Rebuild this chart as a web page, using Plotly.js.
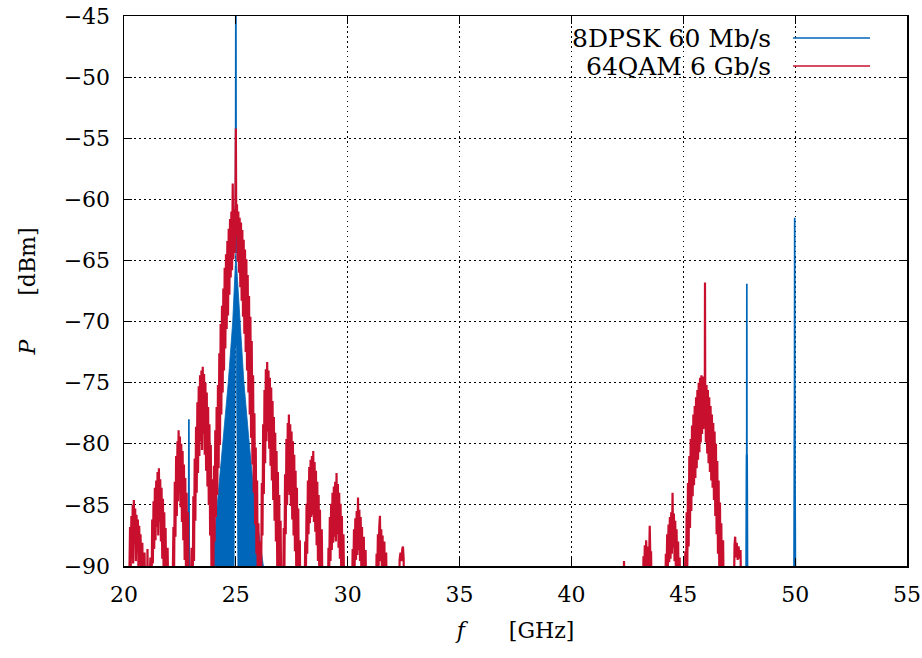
<!DOCTYPE html>
<html>
<head>
<meta charset="utf-8">
<script src="https://cdn.plot.ly/plotly-3.0.1.min.js"></script>
<style>html,body{margin:0;padding:0;background:#fff;}#chart{width:922px;height:658px;}</style>
</head>
<body>
<div id="chart"></div>
<script>
// ---- series names ----
const seriesNames = ['8DPSK 60 Mb/s', '64QAM 6 Gb/s'];

// ---- tick labels ----
const xTicks = [20, 25, 30, 35, 40, 45, 50, 55];
const yTicks = [-90, -85, -80, -75, -70, -65, -60, -55, -50, -45];

// ---- 8DPSK 60 Mb/s (blue): narrow spikes, [f GHz, P dBm]; null = break ----
const bluePts = [
  [20.00, -95], [22.88, -95], [22.90, -78.0], [22.92, -95], [null, null],
  [24.983, -64.4], [24.99, -57.6], [25.00, -40], [25.01, -57.6], [25.017, -64.4], [null, null],
  [47.80, -95], [47.815, -86.0], [47.825, -81.0], [47.835, -80.8], [47.84, -66.9], [47.845, -80.8], [47.855, -81.0], [47.865, -86.0], [47.88, -95], [null, null],
  [49.94, -95], [49.955, -86.5], [49.965, -79.5], [49.972, -75.7], [49.98, -61.5], [49.988, -75.7], [49.995, -83.1], [50.005, -86.5], [50.02, -95]
];
// blue main lobe around 25 GHz (dense, drawn as a filled outline)
const blueLobeF = [23.92, 24.17, 24.44, 24.66, 24.86, 25.00, 25.19, 25.36, 25.60, 25.86, 26.23, 25.09, 25.02, 24.98, 24.92, 23.92];
const blueLobeP = [-90, -85, -80, -75, -70, -64.4, -70, -75, -80, -85, -90, -90, -72, -72, -90, -90];

// ---- 64QAM 6 Gb/s (red), lobe by lobe, [f GHz, P dBm] ----
const redL5 = [[20.20,-95],[20.25,-89.5],[20.27,-86.8],[20.30,-90.5],[20.33,-85.9],[20.36,-88.9],[20.39,-85.0],[20.41,-89.8],[20.44,-84.6],[20.47,-88.2],[20.50,-85.3],[20.53,-89.6],[20.56,-85.8],[20.59,-88.7],[20.62,-86.2],[20.65,-91],[20.68,-86.7],[20.71,-89.9],[20.74,-87.4],[20.78,-92],[20.82,-88.1],[20.86,-95],[20.92,-88.9],[20.96,-95]];
const redL4 = [[21.02,-95],[21.05,-88.6],[21.08,-95],[21.18,-89.3],[21.22,-95],[21.26,-86.2],[21.29,-89.8],[21.32,-84.7],[21.35,-88.6],[21.38,-83.6],[21.41,-87.9],[21.44,-83.0],[21.47,-86.8],[21.50,-82.3],[21.53,-87.5],[21.56,-82.0],[21.59,-86.4],[21.62,-82.9],[21.65,-88.0],[21.68,-83.6],[21.71,-89.4],[21.74,-84.5],[21.77,-90.5],[21.80,-85.6],[21.83,-91],[21.86,-86.9],[21.90,-95],[21.95,-88.5],[22.00,-95]];
const redL3 = [[22.15,-95],[22.21,-86.8],[22.24,-90.2],[22.27,-83.1],[22.30,-87.6],[22.33,-81.0],[22.36,-85.9],[22.39,-79.8],[22.42,-84.7],[22.44,-78.9],[22.47,-84.0],[22.50,-79.4],[22.53,-85.2],[22.56,-80.0],[22.59,-86.4],[22.62,-80.6],[22.65,-87.9],[22.68,-81.7],[22.71,-89.5],[22.74,-82.8],[22.77,-90.6],[22.80,-84.0],[22.83,-92],[22.86,-85.6],[22.90,-95]];
const redL2 = [[22.95,-95],[23.02,-88.5],[23.06,-95],[23.10,-84.3],[23.13,-89.6],[23.16,-81.2],[23.19,-86.3],[23.22,-78.6],[23.25,-84.0],[23.28,-76.6],[23.31,-82.4],[23.34,-75.3],[23.37,-81.0],[23.40,-74.4],[23.43,-79.8],[23.46,-74.0],[23.49,-80.5],[23.52,-73.7],[23.55,-79.2],[23.58,-74.3],[23.61,-80.9],[23.64,-75.0],[23.67,-82.2],[23.70,-75.8],[23.73,-83.5],[23.76,-77.0],[23.79,-85.0],[23.82,-78.4],[23.85,-87.5],[23.88,-80.1],[23.91,-90.5],[23.94,-82.9],[23.97,-95]];
const redMain = [[24.00,-90.5],[24.02,-81.8],[24.05,-88.0],[24.08,-78.9],[24.11,-86.0],[24.14,-77.0],[24.17,-84.2],[24.20,-75.2],[24.23,-82.0],[24.26,-72.6],[24.29,-80.1],[24.32,-70.2],[24.35,-77.6],[24.38,-68.7],[24.41,-75.8],[24.44,-67.3],[24.47,-74.0],[24.50,-65.6],[24.53,-72.2],[24.56,-64.5],[24.59,-70.6],[24.62,-63.4],[24.65,-69.5],[24.68,-62.4],[24.71,-67.8],[24.74,-61.6],[24.77,-66.4],[24.80,-61.0],[24.83,-65.8],[24.86,-58.7],[24.89,-64.9],[24.92,-60.8],[24.95,-64.4],[24.98,-60.3],[25.00,-54.2],[25.02,-63.0],[25.05,-60.4],[25.08,-65.1],[25.11,-61.0],[25.14,-66.0],[25.17,-61.5],[25.20,-67.2],[25.23,-61.9],[25.26,-68.3],[25.29,-62.5],[25.32,-69.6],[25.35,-63.3],[25.38,-71.0],[25.41,-64.1],[25.44,-72.5],[25.47,-64.9],[25.50,-74.0],[25.53,-66.2],[25.56,-75.8],[25.59,-67.9],[25.62,-77.6],[25.65,-69.6],[25.68,-79.5],[25.71,-71.6],[25.74,-81.7],[25.77,-74.4],[25.80,-84.0],[25.83,-77.5],[25.86,-86.6],[25.89,-80.3],[25.92,-89.0],[25.95,-83.0],[25.98,-92],[26.01,-86.5],[26.04,-95]];
const redR1 = [[26.07,-95],[26.10,-88.0],[26.13,-91],[26.16,-83.2],[26.19,-87.5],[26.22,-78.4],[26.25,-84.1],[26.28,-75.6],[26.31,-81.6],[26.34,-73.9],[26.37,-79.8],[26.40,-73.3],[26.43,-79.0],[26.46,-74.0],[26.49,-80.4],[26.52,-74.6],[26.55,-81.8],[26.58,-75.4],[26.61,-83.0],[26.64,-76.5],[26.67,-84.6],[26.70,-77.8],[26.73,-86.3],[26.76,-79.1],[26.79,-88.0],[26.82,-80.6],[26.85,-90.2],[26.88,-82.3],[26.91,-92],[26.94,-84.2],[26.97,-95],[27.00,-86.3],[27.04,-95]];
const redR2 = [[27.10,-95],[27.14,-86.9],[27.17,-90.5],[27.20,-82.5],[27.23,-87.4],[27.26,-79.6],[27.29,-85.0],[27.32,-78.3],[27.35,-83.9],[27.37,-77.6],[27.40,-84.2],[27.43,-78.4],[27.46,-85.1],[27.49,-79.0],[27.52,-86.2],[27.55,-79.8],[27.58,-87.5],[27.61,-80.9],[27.64,-88.8],[27.67,-82.2],[27.70,-90.4],[27.73,-83.6],[27.76,-92],[27.79,-85.3],[27.83,-95],[27.86,-87.9],[27.89,-95]];
const redR3 = [[28.06,-95],[28.10,-88.0],[28.13,-91],[28.16,-84.9],[28.19,-89.0],[28.22,-83.0],[28.25,-87.4],[28.28,-81.9],[28.31,-86.5],[28.34,-81.3],[28.37,-86.0],[28.40,-81.0],[28.43,-85.8],[28.46,-80.6],[28.49,-86.4],[28.52,-81.5],[28.55,-87.2],[28.58,-82.2],[28.61,-88.3],[28.64,-83.1],[28.67,-89.6],[28.70,-84.2],[28.73,-91],[28.76,-85.4],[28.80,-95],[28.84,-87.0],[28.89,-95]];
const redR4 = [[29.10,-95],[29.14,-88.5],[29.17,-91],[29.20,-86.0],[29.23,-89.6],[29.26,-84.9],[29.29,-88.7],[29.32,-84.0],[29.35,-88.1],[29.38,-83.5],[29.41,-87.6],[29.44,-83.1],[29.47,-88.0],[29.50,-82.4],[29.53,-87.4],[29.56,-83.3],[29.59,-88.5],[29.62,-84.0],[29.65,-89.4],[29.68,-84.9],[29.71,-90.5],[29.74,-85.9],[29.78,-95],[29.81,-87.4],[29.86,-95]];
const redR5 = [[30.18,-95],[30.22,-88.6],[30.25,-91],[30.28,-87.0],[30.31,-90.0],[30.34,-86.1],[30.37,-89.5],[30.40,-85.5],[30.43,-89.1],[30.46,-84.4],[30.49,-88.7],[30.52,-85.4],[30.55,-89.6],[30.58,-86.0],[30.61,-90.4],[30.64,-86.8],[30.68,-95],[30.72,-87.6],[30.76,-95],[30.80,-88.7],[30.84,-95]];
const redR6 = [[31.25,-95],[31.29,-89.0],[31.32,-91],[31.35,-87.4],[31.38,-90.2],[31.41,-86.8],[31.44,-85.9],[31.47,-89.6],[31.50,-87.0],[31.53,-90.5],[31.56,-87.5],[31.60,-95],[31.64,-88.0],[31.68,-95],[31.72,-88.9],[31.76,-95]];
const redR7 = [[32.28,-95],[32.32,-89.5],[32.36,-88.9],[32.40,-89.6],[32.44,-88.6],[32.47,-88.4],[32.50,-89.4],[32.54,-95]];
const redS0 = [[42.30,-95],[42.35,-89.6],[42.45,-95]];
const redS1 = [[43.18,-95],[43.22,-89.2],[43.25,-91],[43.28,-88.3],[43.31,-90.6],[43.34,-87.9],[43.38,-90.2],[43.42,-88.4],[43.46,-91],[43.50,-86.7],[43.53,-89.6],[43.56,-88.8],[43.60,-95]];
const redS2 = [[44.18,-95],[44.22,-89.0],[44.25,-91],[44.28,-87.4],[44.31,-90.2],[44.34,-86.6],[44.37,-89.7],[44.40,-86.0],[44.43,-89.4],[44.46,-85.6],[44.49,-89.0],[44.52,-84.0],[44.55,-88.5],[44.58,-85.7],[44.61,-89.6],[44.64,-86.3],[44.67,-90.5],[44.70,-87.0],[44.73,-91],[44.77,-88.0],[44.81,-95],[44.84,-89.3],[44.87,-95]];
const redS46 = [[45.06,-95],[45.09,-88.8],[45.12,-92],[45.15,-85.6],[45.18,-90.0],[45.21,-83.2],[45.24,-88.4],[45.27,-81.0],[45.30,-86.9],[45.33,-79.6],[45.36,-85.5],[45.39,-78.5],[45.42,-84.3],[45.45,-77.6],[45.48,-83.4],[45.51,-76.9],[45.54,-82.8],[45.57,-76.2],[45.60,-82.0],[45.63,-75.6],[45.66,-81.3],[45.69,-75.0],[45.72,-80.7],[45.75,-74.6],[45.78,-79.9],[45.81,-74.4],[45.84,-79.2],[45.87,-74.5],[45.90,-78.8],[45.93,-74.7],[45.96,-78.4],[45.97,-66.8],[45.98,-75.0],[46.01,-79.9],[46.04,-75.2],[46.07,-80.8],[46.10,-75.6],[46.13,-81.6],[46.16,-76.2],[46.19,-82.3],[46.22,-76.9],[46.25,-83.0],[46.28,-77.6],[46.31,-83.6],[46.34,-78.3],[46.37,-84.6],[46.40,-79.0],[46.43,-85.9],[46.46,-80.0],[46.49,-87.4],[46.52,-81.4],[46.55,-89.0],[46.58,-83.0],[46.61,-90.5],[46.64,-84.8],[46.67,-92],[46.70,-86.5],[46.74,-95],[46.78,-87.9],[46.82,-95]];
const redS3 = [[47.25,-95],[47.29,-88.3],[47.32,-87.6],[47.35,-89.3],[47.39,-88.1],[47.43,-89.5],[47.47,-88.4],[47.52,-89.4],[47.56,-88.7],[47.60,-95]];

const redPts = [].concat(redL5, redL4, redL3, redL2, redMain, redR1, redR2, redR3, redR4, redR5, redR6, redR7, redS0, redS1, redS2, redS46, redS3);

const BLUE = '#0066b9';
const RED = '#c8102e';
const FONT = 'DejaVu Serif, Liberation Serif, serif';

const traces = [
  {
    x: blueLobeF, y: blueLobeP, type: 'scatter', mode: 'lines',
    fill: 'toself', fillcolor: BLUE, line: {color: BLUE, width: 0.8},
    showlegend: false, hoverinfo: 'skip'
  },
  {
    x: bluePts.map(p => p[0]), y: bluePts.map(p => p[1]), type: 'scatter', mode: 'lines',
    name: seriesNames[0], line: {color: BLUE, width: 1.7, simplify: false}, connectgaps: false, showlegend: false
  },
  {
    x: redPts.map(p => p[0]), y: redPts.map(p => p[1]), type: 'scatter', mode: 'lines',
    name: seriesNames[1], line: {color: RED, width: 2.2, simplify: false}, showlegend: false
  }
];

const axisCommon = {
  ticks: 'inside', ticklen: 8, tickwidth: 1.2, tickcolor: '#000',
  showline: true, linecolor: '#000', linewidth: 1.5, mirror: 'ticks',
  showgrid: true, gridcolor: '#000', griddash: '1.5px,3.5px', gridwidth: 1,
  zeroline: false, tickfont: {family: FONT, size: 22, color: '#000'}
};

const layout = {
  width: 922, height: 658,
  margin: {l: 124, r: 15, t: 16, b: 92},
  paper_bgcolor: '#fff', plot_bgcolor: '#fff',
  font: {family: FONT, color: '#000'},
  showlegend: false,
  xaxis: Object.assign({}, axisCommon, {
    range: [20, 55], tickvals: xTicks, ticktext: xTicks.map(String),
    ticklabelstandoff: 8,
    title: {text: '<i>f</i>\u2003\u2003[GHz]', font: {family: FONT, size: 22, color: '#000'}, standoff: 16}
  }),
  yaxis: Object.assign({}, axisCommon, {
    range: [-90, -45], tickvals: yTicks,
    ticklabelstandoff: 8,
    title: {text: '<i>P</i>\u2003\u2003[dBm]', font: {family: FONT, size: 22, color: '#000'}, standoff: 22}
  }),
  shapes: [
    {type: 'rect', xref: 'paper', yref: 'paper', x0: 0.538, x1: 0.997, y0: 0.887, y1: 0.998,
     fillcolor: '#fff', line: {width: 0}, layer: 'between'},
    {type: 'line', xref: 'paper', yref: 'paper', x0: 0.8544, x1: 0.9527, y0: 0.960, y1: 0.960,
     line: {color: BLUE, width: 1.5}},
    {type: 'line', xref: 'paper', yref: 'paper', x0: 0.8544, x1: 0.9527, y0: 0.909, y1: 0.909,
     line: {color: RED, width: 1.5}}
  ],
  annotations: [
    {text: seriesNames[0], xref: 'paper', yref: 'paper', x: 0.829, y: 0.960, xanchor: 'right', yanchor: 'middle',
     showarrow: false, font: {family: FONT, size: 25, color: '#000'}},
    {text: seriesNames[1], xref: 'paper', yref: 'paper', x: 0.829, y: 0.909, xanchor: 'right', yanchor: 'middle',
     showarrow: false, font: {family: FONT, size: 25, color: '#000'}}
  ]
};

Plotly.newPlot('chart', traces, layout, {displayModeBar: false, staticPlot: true});
</script>
</body>
</html>
